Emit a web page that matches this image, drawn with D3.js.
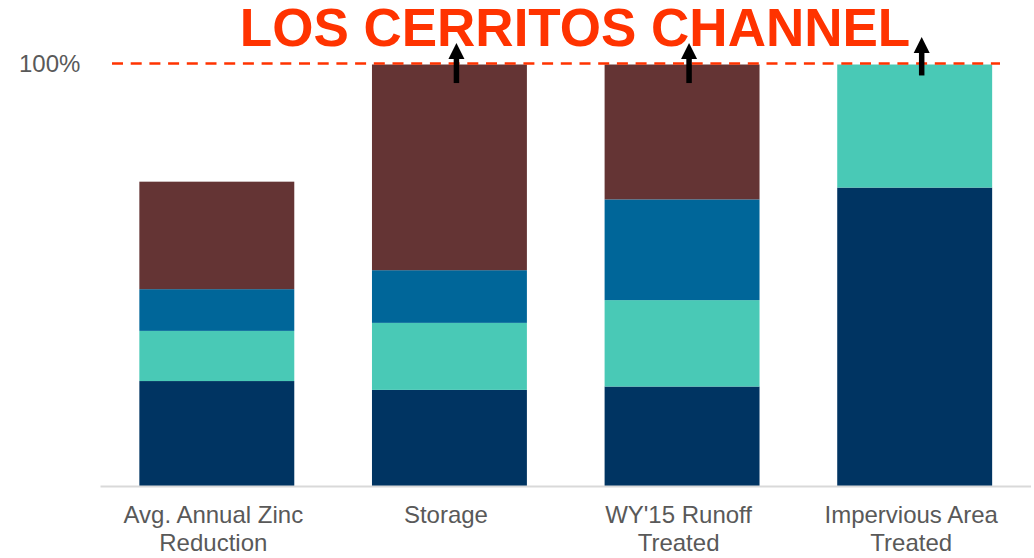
<!DOCTYPE html>
<html>
<head>
<meta charset="utf-8">
<script src="https://cdn.jsdelivr.net/npm/d3@7"></script>
<style>
  body { margin: 0; background: #fff; }
  svg { display: block; font-family: "Liberation Sans", Arial, sans-serif; }
</style>
</head>
<body>
<svg width="1034" height="558"></svg>
<script>
// data (percent of target)
var categories = [["Avg. Annual Zinc", "Reduction"], ["Storage"], ["WY'15 Runoff", "Treated"], ["Impervious Area", "Treated"]];
var seriesNames = ["navy", "teal", "blue", "brown"];
var navy  = [24.9, 22.8, 23.6, 70.8];
var teal  = [11.9, 15.9, 20.5, 29.2];
var blue  = [9.9, 12.5, 23.9, 0];
var brown = [25.5, 48.8, 32.0, 0];
var colors = ["#003462", "#49c9b6", "#006699", "#643434"];
// arrows: bar index, from value, to value
var arrows = [[1, 95.6, 105.1], [2, 95.6, 105.1], [3, 97.4, 106.5]];

var svg = d3.select("svg");

var x = d3.scaleBand()
    .domain(d3.range(categories.length))
    .range([100.5, 1031])
    .paddingInner(0.334)
    .paddingOuter(0.167);

var y = d3.scaleLinear().domain([0, 100]).range([486, 64.5]);

var table = categories.map(function(c, i) {
  return {i: i, navy: navy[i], teal: teal[i], blue: blue[i], brown: brown[i]};
});
var stacked = d3.stack().keys(seriesNames)(table);

svg.append("g")
  .selectAll("g")
  .data(stacked)
  .enter().append("g")
    .attr("fill", function(d, k) { return colors[k]; })
  .selectAll("rect")
  .data(function(d) { return d; })
  .enter().append("rect")
    .attr("x", function(d) { return x(d.data.i); })
    .attr("width", x.bandwidth())
    .attr("y", function(d) { return y(d[1]); })
    .attr("height", function(d) { return y(d[0]) - y(d[1]); });

// baseline
svg.append("line")
    .attr("x1", x.range()[0]).attr("x2", x.range()[1])
    .attr("y1", y(0) + 0.5).attr("y2", y(0) + 0.5)
    .attr("stroke", "#d9d9d9")
    .attr("stroke-width", 2);

// 100% target line
svg.append("line")
    .attr("x1", 112).attr("x2", 1000)
    .attr("y1", y(100) - 1).attr("y2", y(100) - 1)
    .attr("stroke", "#ff3300")
    .attr("stroke-width", 2.5)
    .attr("stroke-dasharray", "11,7.7");

svg.append("text")
    .attr("x", 19)
    .attr("y", y(100) + 7.5)
    .attr("fill", "#595959")
    .style("font-size", "24px")
    .text("100%");

// category labels
svg.append("g")
  .selectAll("text")
  .data(categories)
  .enter().append("text")
    .attr("text-anchor", "middle")
    .attr("fill", "#595959")
    .style("font-size", "24px")
    .attr("transform", function(d, i) { return "translate(" + (x(i) + x.bandwidth() / 2 - 3.5) + ",523)"; })
  .selectAll("tspan")
  .data(function(d) { return d; })
  .enter().append("tspan")
    .attr("x", 0)
    .attr("y", function(d, j) { return j * 28; })
    .text(function(d) { return d; });

// arrows
var arrow = svg.append("g").selectAll("g")
  .data(arrows)
  .enter().append("g")
    .attr("transform", function(d) { return "translate(" + (x(d[0]) + x.bandwidth() / 2 + 7) + ",0)"; });

arrow.append("line")
    .attr("y1", function(d) { return y(d[1]); })
    .attr("y2", function(d) { return y(d[2]) + 14; })
    .attr("stroke", "#000")
    .attr("stroke-width", 5.5);

arrow.append("path")
    .attr("fill", "#000")
    .attr("d", function(d) {
      var t = y(d[2]);
      return "M0," + t + "L8," + (t + 16) + "L-8," + (t + 16) + "Z";
    });

// title
svg.append("text")
    .attr("x", 575)
    .attr("y", 45.5)
    .attr("text-anchor", "middle")
    .attr("fill", "#ff3300")
    .style("font-size", "53px")
    .style("font-weight", "bold")
    .text("LOS CERRITOS CHANNEL");
</script>
</body>
</html>
